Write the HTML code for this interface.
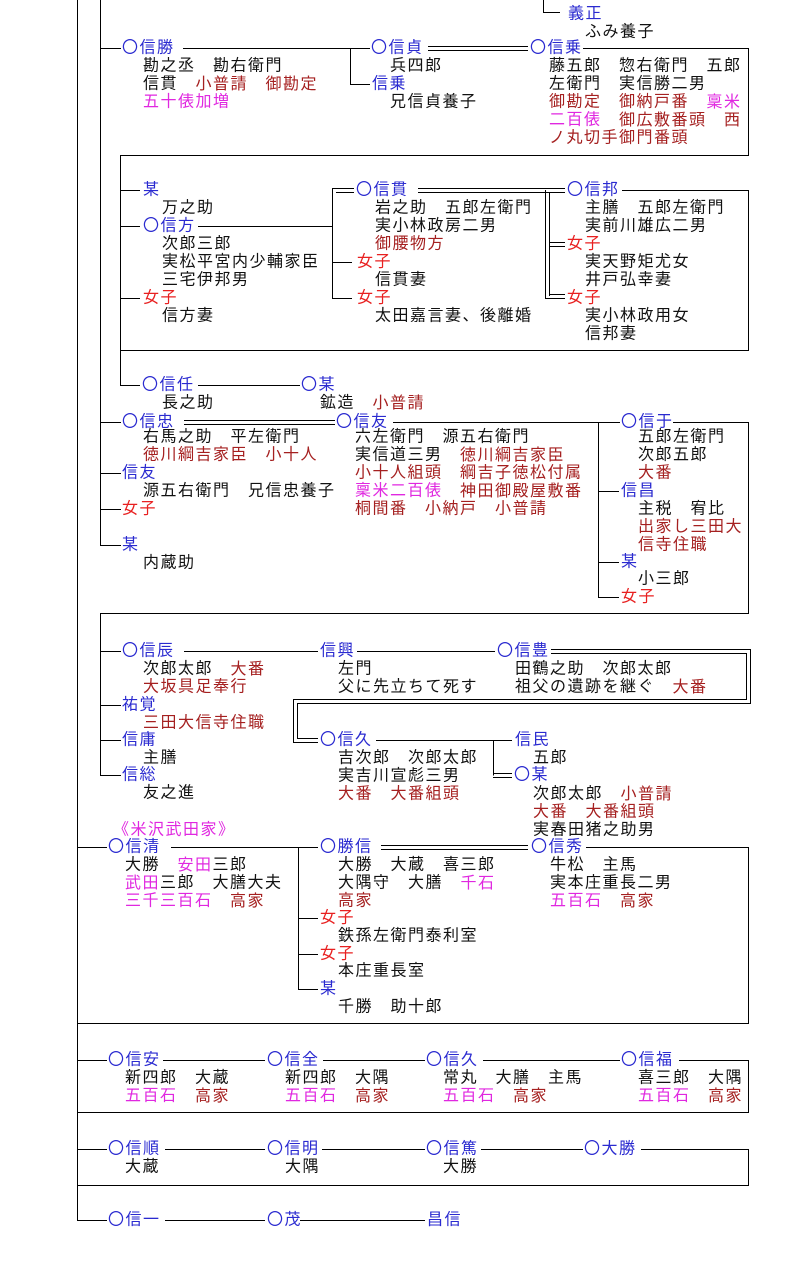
<!DOCTYPE html>
<html><head><meta charset="utf-8"><style>
html,body{margin:0;padding:0;background:#fff}
svg{display:block}
text{font-family:"Liberation Sans","Noto Sans CJK JP",sans-serif;font-size:16px;letter-spacing:1.5px;dominant-baseline:central;fill:#111}
.b{fill:#2a2ad0}.r{fill:#a52020}.m{fill:#e028e0}.f{fill:#e82020}
line,polyline{stroke:#000;stroke-width:1;fill:none}
</style></head><body>
<svg width="794" height="1270" viewBox="0 0 794 1270" xmlns="http://www.w3.org/2000/svg">
<g>
<line x1="77.5" y1="0" x2="77.5" y2="1220"/>
<line x1="100.5" y1="0" x2="100.5" y2="545"/>
<line x1="100.5" y1="613" x2="100.5" y2="775"/>
<polyline points="543.5,0 543.5,12.5 560,12.5"/>
<line x1="100" y1="48.5" x2="121" y2="48.5"/>
<line x1="183" y1="48.5" x2="370" y2="48.5"/>
<polyline points="350.5,48 350.5,84.5 370,84.5"/>
<line x1="428" y1="46.5" x2="528" y2="46.5"/><line x1="428" y1="50.5" x2="528" y2="50.5"/>
<polyline points="583,48.5 748.5,48.5 748.5,155.5 120.5,155.5 120.5,385.5 140,385.5"/>
<line x1="120" y1="190.5" x2="140" y2="190.5"/>
<line x1="120" y1="226.5" x2="140" y2="226.5"/>
<line x1="198" y1="226.5" x2="332" y2="226.5"/>
<line x1="120" y1="298.5" x2="140" y2="298.5"/>
<line x1="332.5" y1="188.5" x2="332.5" y2="298.5"/>
<line x1="332" y1="188.5" x2="354" y2="188.5"/><line x1="336" y1="192.5" x2="354" y2="192.5"/>
<line x1="332" y1="262.5" x2="352" y2="262.5"/>
<line x1="332" y1="298.5" x2="352" y2="298.5"/>
<line x1="418" y1="188.5" x2="565" y2="188.5"/><line x1="418" y1="192.5" x2="565" y2="192.5"/>
<line x1="545.5" y1="190" x2="545.5" y2="298"/><line x1="549.5" y1="192" x2="549.5" y2="296"/>
<line x1="549" y1="242.5" x2="565" y2="242.5"/><line x1="549" y1="246.5" x2="565" y2="246.5"/>
<line x1="545" y1="298.5" x2="565" y2="298.5"/><line x1="549" y1="294.5" x2="565" y2="294.5"/>
<polyline points="622,190.5 748.5,190.5 748.5,350.5 120.5,350.5"/>
<line x1="198" y1="385.5" x2="300" y2="385.5"/>
<line x1="100" y1="422.5" x2="121" y2="422.5"/>
<line x1="184" y1="420.5" x2="335" y2="420.5"/><line x1="184" y1="424.5" x2="335" y2="424.5"/>
<line x1="393" y1="422.5" x2="620" y2="422.5"/>
<polyline points="673,422.5 748.5,422.5 748.5,613.5 100.5,613.5"/>
<line x1="100" y1="473.5" x2="121" y2="473.5"/>
<line x1="100" y1="509.5" x2="121" y2="509.5"/>
<line x1="100" y1="545.5" x2="121" y2="545.5"/>
<line x1="598.5" y1="422" x2="598.5" y2="597.5"/>
<line x1="598" y1="491.5" x2="619" y2="491.5"/>
<line x1="598" y1="562.5" x2="619" y2="562.5"/>
<line x1="598" y1="597.5" x2="619" y2="597.5"/>
<line x1="100" y1="651.5" x2="121" y2="651.5"/>
<line x1="184" y1="651.5" x2="318" y2="651.5"/>
<line x1="357" y1="651.5" x2="495" y2="651.5"/>
<polyline points="551,649.5 750.5,649.5 750.5,703.5 297.5,703.5 297.5,738.5 318,738.5"/>
<polyline points="551,653.5 746.5,653.5 746.5,699.5 293.5,699.5 293.5,742.5 318,742.5"/>
<line x1="100" y1="705.5" x2="121" y2="705.5"/>
<line x1="100" y1="740.5" x2="121" y2="740.5"/>
<line x1="100" y1="775.5" x2="121" y2="775.5"/>
<line x1="376" y1="740.5" x2="512" y2="740.5"/>
<line x1="493.5" y1="740" x2="493.5" y2="775.5"/>
<line x1="493" y1="773.5" x2="512" y2="773.5"/><line x1="493" y1="777.5" x2="512" y2="777.5"/>
<line x1="77" y1="847.5" x2="107" y2="847.5"/>
<line x1="171" y1="847.5" x2="318" y2="847.5"/>
<line x1="381" y1="845.5" x2="528" y2="845.5"/><line x1="381" y1="849.5" x2="528" y2="849.5"/>
<polyline points="586,847.5 748.5,847.5 748.5,1023.5 77.5,1023.5"/>
<line x1="298.5" y1="847" x2="298.5" y2="989.5"/>
<line x1="298" y1="918.5" x2="318" y2="918.5"/>
<line x1="298" y1="954.5" x2="318" y2="954.5"/>
<line x1="298" y1="989.5" x2="318" y2="989.5"/>
<line x1="77" y1="1060.5" x2="107" y2="1060.5"/>
<line x1="163" y1="1060.5" x2="265" y2="1060.5"/>
<line x1="323" y1="1060.5" x2="425" y2="1060.5"/>
<line x1="483" y1="1060.5" x2="620" y2="1060.5"/>
<polyline points="679,1060.5 748.5,1060.5 748.5,1112.5 77.5,1112.5"/>
<line x1="77" y1="1149.5" x2="107" y2="1149.5"/>
<line x1="165" y1="1149.5" x2="265" y2="1149.5"/>
<line x1="322" y1="1149.5" x2="425" y2="1149.5"/>
<line x1="481" y1="1149.5" x2="583" y2="1149.5"/>
<polyline points="641,1149.5 748.5,1149.5 748.5,1185.5 77.5,1185.5"/>
<line x1="77" y1="1220.5" x2="107" y2="1220.5"/>
<line x1="165" y1="1220.5" x2="265" y2="1220.5"/>
<line x1="300" y1="1220.5" x2="425" y2="1220.5"/>
</g>

<text x="568" y="14" class="b">義正</text>
<text x="585" y="32">ふみ養子</text>

<text x="122" y="48" class="b">〇信勝</text>
<text x="143" y="66">勘之丞　勘右衛門</text>
<text x="143" y="84">信貫　<tspan class="r">小普請　御勘定</tspan></text>
<text x="143" y="102" class="m">五十俵加増</text>
<text x="371" y="48" class="b">〇信貞</text>
<text x="390" y="66">兵四郎</text>
<text x="372" y="84" class="b">信乗</text>
<text x="390" y="102">兄信貞養子</text>
<text x="530" y="48" class="b">〇信乗</text>
<text x="549" y="66">藤五郎　惣右衛門　五郎</text>
<text x="549" y="84">左衛門　実信勝二男</text>
<text x="549" y="102" class="r">御勘定　御納戸番　<tspan class="m">稟米</tspan></text>
<text x="549" y="120" class="m">二百俵<tspan class="r">　御広敷番頭　西</tspan></text>
<text x="549" y="138" class="r">ノ丸切手御門番頭</text>

<text x="143" y="190" class="b">某</text>
<text x="162" y="208">万之助</text>
<text x="143" y="226" class="b">〇信方</text>
<text x="162" y="244">次郎三郎</text>
<text x="162" y="262">実松平宮内少輔家臣</text>
<text x="162" y="280">三宅伊邦男</text>
<text x="143" y="298" class="f">女子</text>
<text x="162" y="316">信方妻</text>
<text x="356" y="190" class="b">〇信貫</text>
<text x="375" y="208">岩之助　五郎左衛門</text>
<text x="375" y="226">実小林政房二男</text>
<text x="375" y="244" class="r">御腰物方</text>
<text x="357" y="262" class="f">女子</text>
<text x="375" y="280">信貫妻</text>
<text x="357" y="298" class="f">女子</text>
<text x="375" y="316">太田嘉言妻、後離婚</text>
<text x="567" y="190" class="b">〇信邦</text>
<text x="585" y="208">主膳　五郎左衛門</text>
<text x="585" y="226">実前川雄広二男</text>
<text x="567" y="244" class="f">女子</text>
<text x="585" y="262">実天野矩尤女</text>
<text x="585" y="280">井戸弘幸妻</text>
<text x="567" y="298" class="f">女子</text>
<text x="585" y="316">実小林政用女</text>
<text x="585" y="334">信邦妻</text>

<text x="142" y="385" class="b">〇信任</text>
<text x="162" y="403">長之助</text>
<text x="301" y="385" class="b">〇某</text>
<text x="320" y="403">鉱造　<tspan class="r">小普請</tspan></text>
<text x="122" y="422" class="b">〇信忠</text>
<text x="143" y="437">右馬之助　平左衛門</text>
<text x="143" y="455" class="r">徳川綱吉家臣　小十人</text>
<text x="122" y="473" class="b">信友</text>
<text x="143" y="491">源五右衛門　兄信忠養子</text>
<text x="122" y="509" class="f">女子</text>
<text x="122" y="545" class="b">某</text>
<text x="143" y="563">内蔵助</text>
<text x="336" y="422" class="b">〇信友</text>
<text x="355" y="437">六左衛門　源五右衛門</text>
<text x="355" y="455">実信道三男　<tspan class="r">徳川綱吉家臣</tspan></text>
<text x="355" y="473" class="r">小十人組頭　綱吉子徳松付属</text>
<text x="355" y="491" class="m">稟米二百俵<tspan class="r">　神田御殿屋敷番</tspan></text>
<text x="355" y="509" class="r">桐間番　小納戸　小普請</text>
<text x="621" y="422" class="b">〇信于</text>
<text x="638" y="437">五郎左衛門</text>
<text x="638" y="455">次郎五郎</text>
<text x="638" y="473" class="r">大番</text>
<text x="621" y="491" class="b">信昌</text>
<text x="638" y="509">主税　宥比</text>
<text x="638" y="527" class="r">出家し三田大</text>
<text x="638" y="545" class="r">信寺住職</text>
<text x="621" y="562" class="b">某</text>
<text x="638" y="579">小三郎</text>
<text x="621" y="597" class="f">女子</text>

<text x="122" y="651" class="b">〇信辰</text>
<text x="143" y="669">次郎太郎　<tspan class="r">大番</tspan></text>
<text x="143" y="687" class="r">大坂具足奉行</text>
<text x="122" y="705" class="b">祐覚</text>
<text x="143" y="723" class="r">三田大信寺住職</text>
<text x="122" y="740" class="b">信庸</text>
<text x="143" y="758">主膳</text>
<text x="122" y="775" class="b">信総</text>
<text x="143" y="793">友之進</text>
<text x="320" y="651" class="b">信興</text>
<text x="338" y="669">左門</text>
<text x="338" y="687">父に先立ちて死す</text>
<text x="497" y="651" class="b">〇信豊</text>
<text x="515" y="669">田鶴之助　次郎太郎</text>
<text x="515" y="687">祖父の遺跡を継ぐ　<tspan class="r">大番</tspan></text>
<text x="320" y="740" class="b">〇信久</text>
<text x="338" y="758">吉次郎　次郎太郎</text>
<text x="338" y="776">実吉川宣彪三男</text>
<text x="338" y="794" class="r">大番　大番組頭</text>
<text x="515" y="740" class="b">信民</text>
<text x="533" y="758">五郎</text>
<text x="514" y="775" class="b">〇某</text>
<text x="533" y="794">次郎太郎　<tspan class="r">小普請</tspan></text>
<text x="533" y="812" class="r">大番　大番組頭</text>
<text x="533" y="830">実春田猪之助男</text>

<text x="113" y="830" class="m">《米沢武田家》</text>
<text x="108" y="847" class="b">〇信清</text>
<text x="125" y="865">大勝　<tspan class="m">安田</tspan>三郎</text>
<text x="125" y="883"><tspan class="m">武田</tspan>三郎　大膳大夫</text>
<text x="125" y="901" class="m">三千三百石<tspan class="r">　高家</tspan></text>
<text x="320" y="847" class="b">〇勝信</text>
<text x="338" y="865">大勝　大蔵　喜三郎</text>
<text x="338" y="883">大隅守　大膳　<tspan class="m">千石</tspan></text>
<text x="338" y="901" class="r">高家</text>
<text x="320" y="918" class="f">女子</text>
<text x="338" y="936">鉄孫左衛門泰利室</text>
<text x="320" y="954" class="f">女子</text>
<text x="338" y="971">本庄重長室</text>
<text x="320" y="989" class="b">某</text>
<text x="338" y="1007">千勝　助十郎</text>
<text x="531" y="847" class="b">〇信秀</text>
<text x="550" y="865">牛松　主馬</text>
<text x="550" y="883">実本庄重長二男</text>
<text x="550" y="901" class="m">五百石<tspan class="r">　高家</tspan></text>

<text x="108" y="1060" class="b">〇信安</text>
<text x="125" y="1078">新四郎　大蔵</text>
<text x="125" y="1096" class="m">五百石<tspan class="r">　高家</tspan></text>
<text x="267" y="1060" class="b">〇信全</text>
<text x="285" y="1078">新四郎　大隅</text>
<text x="285" y="1096" class="m">五百石<tspan class="r">　高家</tspan></text>
<text x="426" y="1060" class="b">〇信久</text>
<text x="443" y="1078">常丸　大膳　主馬</text>
<text x="443" y="1096" class="m">五百石<tspan class="r">　高家</tspan></text>
<text x="621" y="1060" class="b">〇信福</text>
<text x="638" y="1078">喜三郎　大隅</text>
<text x="638" y="1096" class="m">五百石<tspan class="r">　高家</tspan></text>

<text x="108" y="1149" class="b">〇信順</text>
<text x="125" y="1167">大蔵</text>
<text x="267" y="1149" class="b">〇信明</text>
<text x="285" y="1167">大隅</text>
<text x="426" y="1149" class="b">〇信篤</text>
<text x="443" y="1167">大勝</text>
<text x="584" y="1149" class="b">〇大勝</text>

<text x="108" y="1220" class="b">〇信一</text>
<text x="267" y="1220" class="b">〇茂</text>
<text x="427" y="1220" class="b">昌信</text>
</svg>
</body></html>
